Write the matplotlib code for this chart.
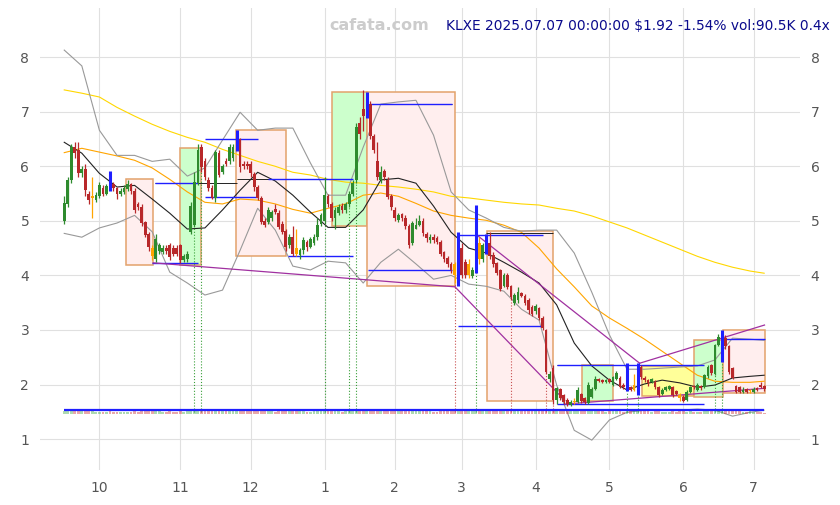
import numpy as np
import pandas as pd
from matplotlib import pyplot as plt
from matplotlib.patches import Rectangle

ticker = "KLXE"
holidays = ["2024-11-28", "2024-12-25", "2025-01-01", "2025-01-09", "2025-01-20",
            "2025-02-17", "2025-04-18", "2025-05-26", "2025-06-19", "2025-07-04"]
dates = pd.bdate_range("2024-09-17", "2025-07-07", freq="C", holidays=holidays)

# daily OHLC, one row per month
opens = [
    5.00, 5.30, 5.74, 6.35, 6.30, 5.88, 5.95, 5.50, 5.42, 5.38,
    5.45, 5.60, 5.50, 5.62, 5.68, 5.60, 5.50, 5.52, 5.58, 5.68, 5.55, 5.30, 5.25, 4.98, 4.75, 4.50, 4.30, 4.45, 4.42, 4.50, 4.55, 4.50, 4.50,
    4.55, 4.28, 4.30, 4.80, 4.92, 5.70, 6.35, 6.10, 5.75, 5.60, 5.42, 6.25, 5.90, 6.10, 6.10, 6.15, 6.30, 6.50, 6.05, 6.05,
    6.05, 5.85, 5.62, 5.42, 5.00, 4.98, 5.05, 5.22, 5.15, 4.95, 4.82, 4.55, 4.70, 4.50, 4.38, 4.46, 4.62, 4.52, 4.60, 4.70, 4.95,
    5.00, 5.45, 5.30, 5.05, 5.15, 5.28, 5.20, 5.30, 5.50, 5.75, 6.80, 7.05, 6.90, 7.15, 6.55, 6.10, 5.75, 5.92, 5.75, 5.45,
    5.20, 5.02, 5.12, 5.05, 4.90, 4.60, 4.85, 4.92, 5.00, 4.75, 4.65, 4.70, 4.68, 4.62, 4.42, 4.32, 4.20, 4.20, 3.85,
    4.50, 4.25, 4.00, 3.98, 4.15, 4.60, 4.30, 4.45, 4.60, 4.38, 4.22, 4.10, 3.80, 4.00, 3.80, 3.50, 3.55, 3.68, 3.62, 3.55, 3.42,
    3.35, 3.40, 3.22, 3.00, 2.10, 2.30, 1.72, 1.92, 1.80, 1.72, 1.62, 1.68, 1.68, 1.82, 1.75, 1.66, 1.78, 1.92, 2.10, 2.08, 2.04,
    2.10, 2.00, 2.10, 2.12, 2.00, 1.90, 1.95, 1.90, 1.85, 2.33, 2.12, 2.08, 2.05, 2.05, 1.95, 1.82, 1.90, 1.92, 1.95, 1.88, 1.80,
    1.78, 1.72, 1.87, 1.98, 1.90, 1.98, 1.95, 2.15, 2.35, 2.20, 2.72, 2.50, 2.85, 2.70, 2.30, 1.98, 1.95, 1.86, 1.92, 1.88,
    1.86, 1.93, 2.00, 1.97,
]
highs = [
    5.45, 5.80, 6.40, 6.45, 6.45, 6.00, 6.05, 5.55, 5.80, 5.52,
    5.72, 5.65, 5.68, 5.92, 5.72, 5.62, 5.60, 5.65, 5.75, 5.70, 5.60, 5.35, 5.30, 5.00, 4.80, 4.55, 4.75, 4.60, 4.55, 4.55, 4.60, 4.55, 4.55,
    4.58, 4.40, 4.45, 5.35, 5.90, 6.40, 6.40, 6.15, 5.80, 5.65, 6.30, 6.30, 6.05, 6.15, 6.40, 6.40, 6.66, 6.52, 6.10, 6.10,
    6.10, 5.90, 5.65, 5.45, 5.05, 5.25, 5.20, 5.30, 5.20, 5.00, 4.85, 4.75, 4.90, 4.85, 4.50, 4.70, 4.65, 4.70, 4.75, 5.05, 5.15,
    5.80, 5.50, 5.35, 5.25, 5.30, 5.32, 5.35, 5.55, 5.75, 6.80, 6.90, 7.40, 7.36, 7.20, 6.60, 6.45, 6.00, 5.95, 5.80, 5.50,
    5.25, 5.15, 5.15, 5.10, 4.95, 5.00, 5.05, 5.10, 5.05, 4.80, 4.75, 4.75, 4.72, 4.65, 4.45, 4.35, 4.25, 4.24, 4.79,
    4.60, 4.30, 4.30, 4.15, 5.29, 4.70, 4.60, 4.75, 4.80, 4.42, 4.25, 4.12, 4.05, 4.05, 3.82, 3.68, 3.78, 3.70, 3.65, 3.58, 3.45,
    3.48, 3.42, 3.25, 3.02, 2.25, 2.35, 1.95, 1.94, 1.82, 1.75, 1.72, 1.75, 1.95, 1.85, 1.78, 2.05, 1.95, 2.15, 2.12, 2.10, 2.10,
    2.12, 2.16, 2.25, 2.15, 2.02, 2.39, 1.97, 2.20, 2.39, 2.36, 2.15, 2.10, 2.12, 2.08, 1.97, 1.93, 1.98, 2.00, 1.97, 1.90, 1.85,
    1.80, 1.90, 1.98, 2.00, 2.02, 2.00, 2.20, 2.35, 2.38, 2.75, 2.92, 3.00, 2.90, 2.72, 2.32, 2.00, 1.97, 1.95, 1.94, 1.92,
    1.96, 1.95, 2.05, 2.00,
]
lows = [
    4.95, 5.25, 5.70, 6.15, 5.80, 5.80, 5.45, 5.30, 5.05, 5.35,
    5.42, 5.45, 5.48, 5.55, 5.55, 5.40, 5.45, 5.50, 5.55, 5.50, 5.15, 5.20, 4.90, 4.70, 4.45, 4.28, 4.25, 4.40, 4.40, 4.40, 4.28, 4.35, 4.35,
    4.22, 4.25, 4.25, 4.75, 4.88, 5.65, 5.90, 5.75, 5.55, 5.40, 5.35, 5.80, 5.85, 6.00, 6.05, 6.10, 6.28, 5.90, 5.95, 5.95,
    5.80, 5.55, 5.38, 4.95, 4.88, 4.95, 5.00, 5.12, 4.85, 4.75, 4.45, 4.50, 4.35, 4.35, 4.30, 4.40, 4.45, 4.50, 4.55, 4.65, 4.90,
    4.95, 5.25, 5.00, 4.85, 5.10, 5.15, 5.15, 5.25, 5.45, 5.70, 6.50, 6.65, 6.88, 6.50, 6.25, 5.75, 5.70, 5.75, 5.40, 5.20,
    5.00, 4.98, 5.00, 4.85, 4.50, 4.55, 4.85, 4.90, 4.72, 4.62, 4.60, 4.60, 4.58, 4.35, 4.25, 4.15, 4.05, 3.86, 3.80,
    3.95, 3.95, 3.95, 3.95, 4.05, 4.20, 4.25, 4.40, 4.30, 4.15, 4.00, 3.72, 3.78, 3.75, 3.55, 3.45, 3.50, 3.60, 3.45, 3.30, 3.25,
    3.30, 3.18, 3.00, 2.20, 2.05, 1.65, 1.65, 1.72, 1.65, 1.60, 1.60, 1.64, 1.66, 1.66, 1.64, 1.65, 1.75, 1.90, 2.04, 2.02, 2.02,
    2.02, 1.98, 2.08, 1.93, 1.92, 1.88, 1.88, 1.88, 1.80, 2.10, 2.05, 1.98, 2.03, 1.92, 1.78, 1.80, 1.88, 1.90, 1.78, 1.80, 1.70,
    1.68, 1.70, 1.85, 1.92, 1.88, 1.90, 1.93, 2.12, 2.18, 2.18, 2.70, 2.41, 2.65, 2.20, 2.10, 1.84, 1.85, 1.85, 1.84, 1.85,
    1.85, 1.88, 1.94, 1.88,
]
closes = [
    5.32, 5.74, 6.35, 6.24, 5.87, 5.95, 5.56, 5.38, 5.45, 5.47,
    5.65, 5.50, 5.63, 5.60, 5.60, 5.50, 5.55, 5.60, 5.68, 5.55, 5.20, 5.25, 4.96, 4.74, 4.52, 4.35, 4.66, 4.55, 4.50, 4.45, 4.33, 4.40, 4.40,
    4.28, 4.35, 4.40, 5.28, 5.71, 6.30, 5.98, 5.80, 5.60, 5.42, 6.26, 5.84, 6.00, 6.05, 6.35, 6.35, 6.55, 5.98, 6.00, 6.00,
    5.87, 5.62, 5.42, 4.98, 4.92, 5.20, 5.16, 5.16, 4.88, 4.80, 4.52, 4.70, 4.40, 4.40, 4.46, 4.65, 4.52, 4.66, 4.70, 4.93, 5.10,
    5.47, 5.30, 5.05, 5.20, 5.25, 5.20, 5.30, 5.50, 5.70, 6.72, 6.60, 6.92, 7.20, 6.55, 6.30, 5.80, 5.90, 5.80, 5.43, 5.25,
    5.05, 5.10, 5.05, 4.90, 4.55, 4.96, 4.92, 5.00, 4.78, 4.68, 4.70, 4.65, 4.62, 4.40, 4.30, 4.20, 4.10, 4.00, 4.50,
    4.00, 4.00, 4.20, 4.10, 4.50, 4.30, 4.55, 4.70, 4.35, 4.20, 4.05, 3.75, 4.00, 3.78, 3.60, 3.64, 3.70, 3.62, 3.50, 3.36, 3.30,
    3.44, 3.22, 3.04, 2.23, 2.20, 1.72, 1.93, 1.75, 1.68, 1.65, 1.68, 1.70, 1.90, 1.70, 1.68, 2.00, 1.92, 2.10, 2.07, 2.05, 2.08,
    2.05, 2.13, 2.22, 1.96, 1.95, 2.00, 1.90, 2.00, 2.30, 2.13, 2.08, 2.02, 2.10, 1.95, 1.80, 1.90, 1.95, 1.97, 1.80, 1.82, 1.75,
    1.70, 1.87, 1.96, 1.95, 2.00, 1.93, 2.17, 2.32, 2.22, 2.72, 2.87, 2.80, 2.70, 2.23, 2.12, 1.86, 1.87, 1.90, 1.86, 1.88,
    1.92, 1.90, 1.95, 1.92,
]
volumes = [  # thousands
    310, 420, 560, 380, 300, 260, 280, 240, 250, 220,
    230, 210, 200, 260, 220, 200, 190, 210, 230, 220, 280, 230, 300, 320, 340, 300, 380, 260, 230, 220, 240, 230, 210,
    250, 230, 240, 620, 700, 680, 420, 330, 280, 300, 520, 380, 300, 280, 340, 300, 420, 380, 260, 240,
    250, 300, 320, 380, 280, 300, 250, 230, 280, 260, 300, 260, 330, 300, 240, 260, 230, 220, 240, 320, 300,
    420, 320, 300, 280, 250, 230, 260, 300, 380, 900, 620, 700, 760, 500, 420, 480, 300, 280, 320, 300,
    310, 260, 240, 280, 360, 420, 300, 280, 300, 260, 240, 230, 230, 280, 260, 270, 300, 360, 520,
    380, 330, 300, 280, 560, 380, 300, 340, 320, 300, 280, 340, 300, 280, 300, 260, 280, 240, 260, 280, 300,
    280, 300, 320, 900, 640, 820, 520, 400, 360, 330, 300, 260, 340, 280, 260, 380, 300, 340, 260, 240, 230,
    240, 260, 280, 240, 220, 520, 240, 280, 500, 300, 260, 240, 230, 250, 280, 220, 210, 220, 240, 220, 260,
    240, 220, 240, 230, 220, 230, 300, 340, 300, 520, 600, 640, 420, 380, 300, 280, 250, 230, 220, 260,
    200, 180, 150, 90.5,
]

signal_idx = [13, 49, 86, 112, 117, 120, 160, 163, 187]   # blue bars
doji_idx = [8, 25, 66, 111, 115, 118, 145, 162, 175, 195]  # orange candles
buy_marks = [37, 39, 74, 81, 83, 117, 160, 163, 185, 187]
sell_marks = [111, 127, 137, 139]

# price zones (trading-day units)
zone_start = [17.6, 33.0, 48.9, 76.1, 86.1, 120.2, 147.2, 164.2, 179.0, 187.2]
zone_end = [25.3, 38.9, 63.1, 86.1, 111.1, 138.9, 156.0, 179.0, 187.2, 199.1]
zone_low = [4.19, 4.19, 4.35, 4.90, 3.80, 1.70, 1.70, 1.79, 1.77, 1.84]
zone_high = [5.76, 6.33, 6.66, 7.36, 7.36, 4.81, 2.36, 2.34, 2.81, 3.00]
zone_kind = ["down", "up", "down", "up", "down", "down", "up", "flat", "up", "down"]

level_start = [25.9, 25.0, 40.1, 40.1, 58.0, 63.6, 86.9, 86.4, 111.9, 111.9, 140.1, 140.1, 187.2]
level_end = [38.1, 38.1, 55.1, 55.1, 82.1, 82.1, 110.2, 110.2, 136.1, 136.1, 182.0, 182.0, 199.1]
level_price = [5.69, 4.23, 6.50, 5.43, 5.76, 4.35, 7.15, 4.10, 4.74, 3.07, 2.36, 1.64, 2.83]

pivot_start = [25.9, 49.0, 86.0, 120.0, 140.0, 187.0]
pivot_end = [49.1, 75.6, 110.2, 139.0, 156.0, 199.0]
pivot_price = [5.69, 5.76, 7.15, 4.77, 2.36, 2.83]

trend_x0 = [25.3, 111.1, 117.3, 163.6, 142.3]
trend_y0 = [4.23, 3.79, 4.74, 2.39, 1.64]
trend_x1 = [111.1, 142.3, 163.6, 199.1, 199.1]
trend_y1 = [3.79, 1.71, 2.39, 3.09, 1.93]

# indicator lines read every 5 sessions
ma_idx = list(range(0, 200, 5)) + [199]
sma20 = [6.44, 6.24, 5.87, 5.62, 5.65, 5.40, 5.14, 4.85, 4.87, 5.20, 5.56, 5.89, 5.73, 5.47, 5.16, 4.88, 4.88,
         5.20, 5.75, 5.78, 5.69, 5.27, 4.79, 4.50, 4.41, 4.24, 4.06, 3.86, 3.46, 2.76, 2.34, 2.08, 1.90, 2.01,
         2.08, 2.03, 1.95, 1.99, 2.12, 2.15, 2.17]
bb_up = [8.13, 7.84, 6.66, 6.20, 6.20, 6.09, 6.13, 5.82, 5.97, 6.48, 6.99, 6.66, 6.70, 6.70, 6.06, 5.47, 5.47,
         6.35, 7.14, 7.18, 7.21, 6.57, 5.53, 5.20, 5.05, 4.88, 4.81, 4.83, 4.83, 4.41, 3.69, 2.91, 2.28, 2.28,
         2.30, 2.32, 2.34, 2.45, 2.85, 2.83, 2.81]
bb_lo = [4.77, 4.70, 4.87, 4.96, 5.10, 4.80, 4.06, 3.86, 3.64, 3.73, 4.46, 5.23, 4.83, 4.17, 4.10, 4.26, 4.23,
         3.86, 4.24, 4.48, 4.21, 3.93, 4.00, 3.84, 3.80, 3.71, 3.38, 3.18, 1.99, 1.16, 0.98, 1.35, 1.49, 1.53,
         1.53, 1.53, 1.55, 1.53, 1.42, 1.49, 1.53]
ma50 = [6.25, 6.33, 6.26, 6.19, 6.11, 5.97, 5.76, 5.53, 5.34, 5.31, 5.40, 5.38, 5.31, 5.21, 5.14, 5.23, 5.31,
        5.47, 5.51, 5.45, 5.32, 5.18, 5.10, 5.05, 5.01, 4.92, 4.79, 4.50, 4.12, 3.79, 3.44, 3.22, 3.03, 2.83,
        2.61, 2.39, 2.17, 2.06, 2.04, 2.04, 2.06]
ma200 = [7.40, 7.34, 7.27, 7.08, 6.92, 6.77, 6.64, 6.53, 6.44, 6.31, 6.20, 6.09, 6.00, 5.89, 5.84, 5.76, 5.71,
         5.69, 5.65, 5.62, 5.58, 5.53, 5.45, 5.42, 5.38, 5.34, 5.31, 5.29, 5.23, 5.18, 5.09, 4.98, 4.87, 4.74,
         4.61, 4.48, 4.35, 4.24, 4.15, 4.08, 4.04]

GREEN = "#2e8b2e"
RED = "#b8282a"
ORANGE = "#ffa500"
BLUE = "#1f1fff"

fig = plt.figure(figsize=(8.4, 5.05), dpi=100)
ax = fig.add_axes([0.048, 0.069, 0.904, 0.915])

n = len(closes)
x = np.arange(n)
o = np.array(opens)
h = np.array(highs)
l = np.array(lows)
c = np.array(closes)

# zones
fills = {"down": "#ffeeee", "up": "#ccffcc", "flat": "#ffff99"}
for s, e, lo, hi, k in zip(zone_start, zone_end, zone_low, zone_high, zone_kind):
    ax.add_patch(Rectangle((s, lo), e - s, hi - lo, facecolor=fills[k],
                           edgecolor="#e3a26b", lw=1.1, zorder=1))

# indicators
ax.plot(ma_idx, ma200, color="#ffd700", lw=0.8, zorder=2)
ax.plot(ma_idx, ma50, color="#ffa500", lw=0.8, zorder=2)
ax.plot(ma_idx, bb_up, color="#999999", lw=0.8, zorder=2)
ax.plot(ma_idx, bb_lo, color="#999999", lw=0.8, zorder=2)
ax.plot(ma_idx, sma20, color="#222222", lw=0.8, zorder=2)

# support / resistance
ax.hlines(pivot_price, pivot_start, pivot_end, colors="#222222", lw=0.7, zorder=2)
ax.hlines(level_price, level_start, level_end, colors=BLUE, lw=1.0, zorder=2)
for x0, y0, x1, y1 in zip(trend_x0, trend_y0, trend_x1, trend_y1):
    ax.plot([x0, x1], [y0, y1], color="#a030a0", lw=0.9, zorder=2)

# signal markers
ax.vlines(buy_marks, 1.5, l[buy_marks], colors="#3aa03a", lw=0.8, linestyles=":", zorder=2)
ax.vlines(sell_marks, 1.5, l[sell_marks], colors="#c85050", lw=0.8, linestyles=":", zorder=2)

# volume strip
vol = np.array(volumes, dtype=float)
vol_h = np.clip(vol / vol.mean(), 0, 1.6) * 0.055
vol_col = np.where(c >= o, "#4caf50", "#d04040")
ax.bar(x, vol_h, bottom=1.465, width=0.8, color=vol_col, alpha=0.45, lw=0, zorder=2)
ax.hlines(1.53, 0, n - 1, colors=BLUE, lw=1.6, zorder=3)

# candles
colors = np.where(c >= o, GREEN, RED).astype(object)
colors[doji_idx] = ORANGE
mask = np.ones(n, dtype=bool)
mask[signal_idx] = False
ax.vlines(x[mask], l[mask], h[mask], colors=list(colors[mask]), lw=0.9, zorder=3)
body_lo = np.minimum(o, c)
body_h = np.maximum(np.abs(c - o), 0.015)
ax.bar(x[mask], body_h[mask], bottom=body_lo[mask], width=0.78,
       color=list(colors[mask]), lw=0, zorder=3)
ax.vlines(x[signal_idx], l[signal_idx], h[signal_idx], colors=BLUE, lw=2.2, zorder=4)

# axes styling
month_first = pd.Series(np.arange(n), index=dates).groupby([dates.year, dates.month]).first()
tick_pos = list(month_first.values[1:])
tick_lab = [str(m) for (_, m) in month_first.index[1:]]
ax.set_xticks(tick_pos)
ax.set_xticklabels(tick_lab)
ax.set_yticks(np.arange(1, 9))
ax.set_xlim(-6.8, 209.1)
ax.set_ylim(0.43, 8.9)
ax.grid(True, color="#e0e0e0", lw=0.8, zorder=0)
ax.set_axisbelow(True)
for sp in ax.spines.values():
    sp.set_visible(False)
ax.tick_params(length=0, labelsize=10, labelcolor="#555555", labelright=True, pad=8)

fig.text(0.452, 0.949, "cafata.com", color="#cccccc", fontsize=11.5, fontweight="bold",
         ha="center", va="center")
fig.text(0.988, 0.949, f"{ticker} 2025.07.07 00:00:00 $1.92 -1.54% vol:90.5K 0.4x",
         color="#0a0a8c", fontsize=9.9, ha="right", va="center")

fig.savefig("out.png")
